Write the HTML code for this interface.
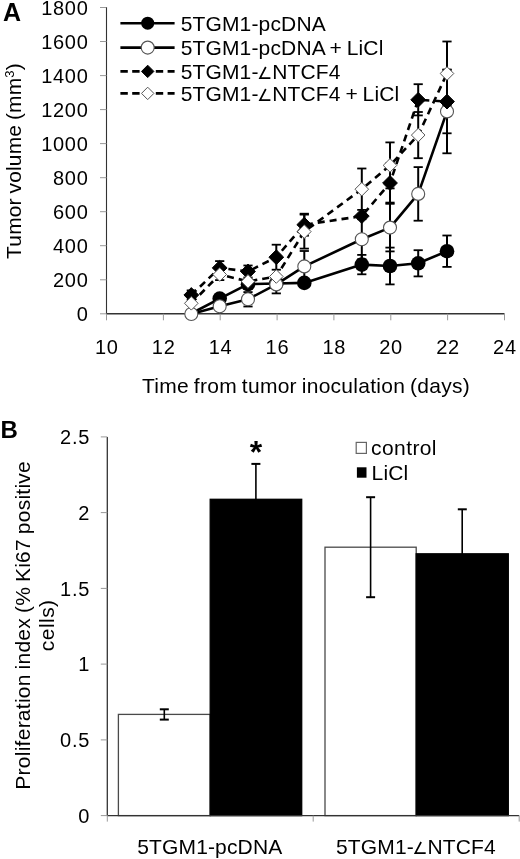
<!DOCTYPE html><html><head><meta charset="utf-8"><style>html,body{margin:0;padding:0;background:#fff;width:520px;height:859px;overflow:hidden}svg{display:block;filter:grayscale(1)}text{font-family:"Liberation Sans",sans-serif;fill:#000;letter-spacing:0.15px;word-spacing:-1.2px}</style></head><body>
<svg width="520" height="859" viewBox="0 0 520 859">
<text x="3.1" y="20.6" font-size="25" font-weight="bold">A</text>
<line x1="106.5" y1="7.0" x2="106.5" y2="313.8" stroke="#333" stroke-width="1.1"/>
<line x1="106.0" y1="313.8" x2="504.5" y2="313.8" stroke="#333" stroke-width="1.5"/>
<line x1="100.0" y1="313.8" x2="106.5" y2="313.8" stroke="#999" stroke-width="1"/>
<text x="88.5" y="320.9" font-size="20" style="letter-spacing:0.7px" text-anchor="end">0</text>
<line x1="100.0" y1="279.8" x2="106.5" y2="279.8" stroke="#999" stroke-width="1"/>
<text x="88.5" y="286.9" font-size="20" style="letter-spacing:0.7px" text-anchor="end">200</text>
<line x1="100.0" y1="245.7" x2="106.5" y2="245.7" stroke="#999" stroke-width="1"/>
<text x="88.5" y="252.8" font-size="20" style="letter-spacing:0.7px" text-anchor="end">400</text>
<line x1="100.0" y1="211.7" x2="106.5" y2="211.7" stroke="#999" stroke-width="1"/>
<text x="88.5" y="218.8" font-size="20" style="letter-spacing:0.7px" text-anchor="end">600</text>
<line x1="100.0" y1="177.7" x2="106.5" y2="177.7" stroke="#999" stroke-width="1"/>
<text x="88.5" y="184.8" font-size="20" style="letter-spacing:0.7px" text-anchor="end">800</text>
<line x1="100.0" y1="143.6" x2="106.5" y2="143.6" stroke="#999" stroke-width="1"/>
<text x="88.5" y="150.7" font-size="20" style="letter-spacing:0.7px" text-anchor="end">1000</text>
<line x1="100.0" y1="109.6" x2="106.5" y2="109.6" stroke="#999" stroke-width="1"/>
<text x="88.5" y="116.7" font-size="20" style="letter-spacing:0.7px" text-anchor="end">1200</text>
<line x1="100.0" y1="75.6" x2="106.5" y2="75.6" stroke="#999" stroke-width="1"/>
<text x="88.5" y="82.7" font-size="20" style="letter-spacing:0.7px" text-anchor="end">1400</text>
<line x1="100.0" y1="41.5" x2="106.5" y2="41.5" stroke="#999" stroke-width="1"/>
<text x="88.5" y="48.6" font-size="20" style="letter-spacing:0.7px" text-anchor="end">1600</text>
<line x1="100.0" y1="7.5" x2="106.5" y2="7.5" stroke="#999" stroke-width="1"/>
<text x="88.5" y="14.6" font-size="20" style="letter-spacing:0.7px" text-anchor="end">1800</text>
<line x1="106.5" y1="313.8" x2="106.5" y2="320.3" stroke="#999" stroke-width="1"/>
<text x="106.8" y="354" font-size="20" style="letter-spacing:0.7px" text-anchor="middle">10</text>
<line x1="163.4" y1="313.8" x2="163.4" y2="320.3" stroke="#999" stroke-width="1"/>
<text x="163.7" y="354" font-size="20" style="letter-spacing:0.7px" text-anchor="middle">12</text>
<line x1="220.2" y1="313.8" x2="220.2" y2="320.3" stroke="#999" stroke-width="1"/>
<text x="220.6" y="354" font-size="20" style="letter-spacing:0.7px" text-anchor="middle">14</text>
<line x1="277.1" y1="313.8" x2="277.1" y2="320.3" stroke="#999" stroke-width="1"/>
<text x="277.4" y="354" font-size="20" style="letter-spacing:0.7px" text-anchor="middle">16</text>
<line x1="333.9" y1="313.8" x2="333.9" y2="320.3" stroke="#999" stroke-width="1"/>
<text x="334.3" y="354" font-size="20" style="letter-spacing:0.7px" text-anchor="middle">18</text>
<line x1="390.8" y1="313.8" x2="390.8" y2="320.3" stroke="#999" stroke-width="1"/>
<text x="391.1" y="354" font-size="20" style="letter-spacing:0.7px" text-anchor="middle">20</text>
<line x1="447.6" y1="313.8" x2="447.6" y2="320.3" stroke="#999" stroke-width="1"/>
<text x="448.0" y="354" font-size="20" style="letter-spacing:0.7px" text-anchor="middle">22</text>
<line x1="504.5" y1="313.8" x2="504.5" y2="320.3" stroke="#999" stroke-width="1"/>
<text x="504.9" y="354" font-size="20" style="letter-spacing:0.7px" text-anchor="middle">24</text>
<text x="306" y="393" font-size="21" text-anchor="middle" style="letter-spacing:0.27px">Time from tumor inoculation (days)</text>
<text transform="translate(20.6,161) rotate(-90)" font-size="21" text-anchor="middle">Tumor volume (mm<tspan font-size="13" dy="-6.5">3</tspan><tspan dy="6.5">)</tspan></text>





<line x1="361.8" y1="254.9" x2="361.8" y2="274.3" stroke="#000" stroke-width="2"/><line x1="357.2" y1="254.9" x2="366.4" y2="254.9" stroke="#000" stroke-width="1.8"/><line x1="357.2" y1="274.3" x2="366.4" y2="274.3" stroke="#000" stroke-width="1.8"/>
<line x1="390.0" y1="247.6" x2="390.0" y2="284.4" stroke="#000" stroke-width="2"/><line x1="385.4" y1="247.6" x2="394.6" y2="247.6" stroke="#000" stroke-width="1.8"/><line x1="385.4" y1="284.4" x2="394.6" y2="284.4" stroke="#000" stroke-width="1.8"/>
<line x1="418.2" y1="250.2" x2="418.2" y2="276.4" stroke="#000" stroke-width="2"/><line x1="413.6" y1="250.2" x2="422.8" y2="250.2" stroke="#000" stroke-width="1.8"/><line x1="413.6" y1="276.4" x2="422.8" y2="276.4" stroke="#000" stroke-width="1.8"/>
<line x1="447.0" y1="235.5" x2="447.0" y2="266.9" stroke="#000" stroke-width="2"/><line x1="442.4" y1="235.5" x2="451.6" y2="235.5" stroke="#000" stroke-width="1.8"/><line x1="442.4" y1="266.9" x2="451.6" y2="266.9" stroke="#000" stroke-width="1.8"/>


<line x1="248.0" y1="292.1" x2="248.0" y2="306.5" stroke="#000" stroke-width="2"/><line x1="243.4" y1="292.1" x2="252.6" y2="292.1" stroke="#000" stroke-width="1.8"/><line x1="243.4" y1="306.5" x2="252.6" y2="306.5" stroke="#000" stroke-width="1.8"/>
<line x1="276.3" y1="275.4" x2="276.3" y2="293.4" stroke="#000" stroke-width="2"/><line x1="271.7" y1="275.4" x2="280.9" y2="275.4" stroke="#000" stroke-width="1.8"/><line x1="271.7" y1="293.4" x2="280.9" y2="293.4" stroke="#000" stroke-width="1.8"/>
<line x1="304.3" y1="251.0" x2="304.3" y2="281.8" stroke="#000" stroke-width="2"/><line x1="299.7" y1="251.0" x2="308.9" y2="251.0" stroke="#000" stroke-width="1.8"/><line x1="299.7" y1="281.8" x2="308.9" y2="281.8" stroke="#000" stroke-width="1.8"/>
<line x1="361.8" y1="219.2" x2="361.8" y2="259.2" stroke="#000" stroke-width="2"/><line x1="357.2" y1="219.2" x2="366.4" y2="219.2" stroke="#000" stroke-width="1.8"/><line x1="357.2" y1="259.2" x2="366.4" y2="259.2" stroke="#000" stroke-width="1.8"/>
<line x1="390.0" y1="203.8" x2="390.0" y2="251.4" stroke="#000" stroke-width="2"/><line x1="385.4" y1="203.8" x2="394.6" y2="203.8" stroke="#000" stroke-width="1.8"/><line x1="385.4" y1="251.4" x2="394.6" y2="251.4" stroke="#000" stroke-width="1.8"/>
<line x1="418.2" y1="167.1" x2="418.2" y2="220.7" stroke="#000" stroke-width="2"/><line x1="413.6" y1="167.1" x2="422.8" y2="167.1" stroke="#000" stroke-width="1.8"/><line x1="413.6" y1="220.7" x2="422.8" y2="220.7" stroke="#000" stroke-width="1.8"/>
<line x1="447.0" y1="69.5" x2="447.0" y2="153.3" stroke="#000" stroke-width="2"/><line x1="442.4" y1="69.5" x2="451.6" y2="69.5" stroke="#000" stroke-width="1.8"/><line x1="442.4" y1="153.3" x2="451.6" y2="153.3" stroke="#000" stroke-width="1.8"/>
<line x1="191.3" y1="290.4" x2="191.3" y2="299.6" stroke="#000" stroke-width="2"/><line x1="186.7" y1="290.4" x2="195.9" y2="290.4" stroke="#000" stroke-width="1.8"/><line x1="186.7" y1="299.6" x2="195.9" y2="299.6" stroke="#000" stroke-width="1.8"/>
<line x1="219.7" y1="261.1" x2="219.7" y2="274.7" stroke="#000" stroke-width="2"/><line x1="215.1" y1="261.1" x2="224.3" y2="261.1" stroke="#000" stroke-width="1.8"/><line x1="215.1" y1="274.7" x2="224.3" y2="274.7" stroke="#000" stroke-width="1.8"/>
<line x1="248.0" y1="265.5" x2="248.0" y2="277.5" stroke="#000" stroke-width="2"/><line x1="243.4" y1="265.5" x2="252.6" y2="265.5" stroke="#000" stroke-width="1.8"/><line x1="243.4" y1="277.5" x2="252.6" y2="277.5" stroke="#000" stroke-width="1.8"/>
<line x1="276.3" y1="244.7" x2="276.3" y2="269.7" stroke="#000" stroke-width="2"/><line x1="271.7" y1="244.7" x2="280.9" y2="244.7" stroke="#000" stroke-width="1.8"/><line x1="271.7" y1="269.7" x2="280.9" y2="269.7" stroke="#000" stroke-width="1.8"/>
<line x1="304.3" y1="213.7" x2="304.3" y2="235.7" stroke="#000" stroke-width="2"/><line x1="299.7" y1="213.7" x2="308.9" y2="213.7" stroke="#000" stroke-width="1.8"/><line x1="299.7" y1="235.7" x2="308.9" y2="235.7" stroke="#000" stroke-width="1.8"/>

<line x1="390.0" y1="163.4" x2="390.0" y2="202.6" stroke="#000" stroke-width="2"/><line x1="385.4" y1="163.4" x2="394.6" y2="163.4" stroke="#000" stroke-width="1.8"/><line x1="385.4" y1="202.6" x2="394.6" y2="202.6" stroke="#000" stroke-width="1.8"/>
<line x1="418.2" y1="84.2" x2="418.2" y2="115.4" stroke="#000" stroke-width="2"/><line x1="413.6" y1="84.2" x2="422.8" y2="84.2" stroke="#000" stroke-width="1.8"/><line x1="413.6" y1="115.4" x2="422.8" y2="115.4" stroke="#000" stroke-width="1.8"/>
<line x1="447.0" y1="69.9" x2="447.0" y2="133.3" stroke="#000" stroke-width="2"/><line x1="442.4" y1="69.9" x2="451.6" y2="69.9" stroke="#000" stroke-width="1.8"/><line x1="442.4" y1="133.3" x2="451.6" y2="133.3" stroke="#000" stroke-width="1.8"/>

<line x1="219.7" y1="268.9" x2="219.7" y2="280.1" stroke="#000" stroke-width="2"/><line x1="215.1" y1="268.9" x2="224.3" y2="268.9" stroke="#000" stroke-width="1.8"/><line x1="215.1" y1="280.1" x2="224.3" y2="280.1" stroke="#000" stroke-width="1.8"/>


<line x1="304.3" y1="214.6" x2="304.3" y2="248.6" stroke="#000" stroke-width="2"/><line x1="299.7" y1="214.6" x2="308.9" y2="214.6" stroke="#000" stroke-width="1.8"/><line x1="299.7" y1="248.6" x2="308.9" y2="248.6" stroke="#000" stroke-width="1.8"/>
<line x1="361.8" y1="168.5" x2="361.8" y2="209.9" stroke="#000" stroke-width="2"/><line x1="357.2" y1="168.5" x2="366.4" y2="168.5" stroke="#000" stroke-width="1.8"/><line x1="357.2" y1="209.9" x2="366.4" y2="209.9" stroke="#000" stroke-width="1.8"/>
<line x1="390.0" y1="142.4" x2="390.0" y2="188.4" stroke="#000" stroke-width="2"/><line x1="385.4" y1="142.4" x2="394.6" y2="142.4" stroke="#000" stroke-width="1.8"/><line x1="385.4" y1="188.4" x2="394.6" y2="188.4" stroke="#000" stroke-width="1.8"/>
<line x1="418.2" y1="112.0" x2="418.2" y2="158.2" stroke="#000" stroke-width="2"/><line x1="413.6" y1="112.0" x2="422.8" y2="112.0" stroke="#000" stroke-width="1.8"/><line x1="413.6" y1="158.2" x2="422.8" y2="158.2" stroke="#000" stroke-width="1.8"/>
<line x1="447.0" y1="41.5" x2="447.0" y2="105.5" stroke="#000" stroke-width="2"/><line x1="442.4" y1="41.5" x2="451.6" y2="41.5" stroke="#000" stroke-width="1.8"/><line x1="442.4" y1="105.5" x2="451.6" y2="105.5" stroke="#000" stroke-width="1.8"/>
<polyline points="191.3,313.5 219.7,298.6 248.0,284.2 276.3,283.5 304.3,282.9 361.8,264.6 390.0,266.0 418.2,263.3 447.0,251.2" fill="none" stroke="#000" stroke-width="2.6" stroke-linejoin="round"/>
<circle cx="219.7" cy="298.6" r="7.3" fill="#000"/>
<circle cx="248.0" cy="284.2" r="7.3" fill="#000"/>
<circle cx="276.3" cy="283.5" r="7.3" fill="#000"/>
<circle cx="304.3" cy="282.9" r="7.3" fill="#000"/>
<circle cx="361.8" cy="264.6" r="7.3" fill="#000"/>
<circle cx="390.0" cy="266.0" r="7.3" fill="#000"/>
<circle cx="418.2" cy="263.3" r="7.3" fill="#000"/>
<circle cx="447.0" cy="251.2" r="7.3" fill="#000"/>
<polyline points="191.3,314.0 219.7,306.3 248.0,299.3 276.3,284.4 304.3,266.4 361.8,239.2 390.0,227.6 418.2,193.9 447.0,111.4" fill="none" stroke="#000" stroke-width="2.6" stroke-linejoin="round"/>
<circle cx="191.3" cy="314.0" r="6.5" fill="#fff" stroke="#555" stroke-width="1.1"/>
<circle cx="219.7" cy="306.3" r="6.5" fill="#fff" stroke="#555" stroke-width="1.1"/>
<circle cx="248.0" cy="299.3" r="6.5" fill="#fff" stroke="#555" stroke-width="1.1"/>
<circle cx="276.3" cy="284.4" r="6.5" fill="#fff" stroke="#555" stroke-width="1.1"/>
<circle cx="304.3" cy="266.4" r="6.5" fill="#fff" stroke="#555" stroke-width="1.1"/>
<circle cx="361.8" cy="239.2" r="6.5" fill="#fff" stroke="#555" stroke-width="1.1"/>
<circle cx="390.0" cy="227.6" r="6.5" fill="#fff" stroke="#555" stroke-width="1.1"/>
<circle cx="418.2" cy="193.9" r="6.5" fill="#fff" stroke="#555" stroke-width="1.1"/>
<circle cx="447.0" cy="111.4" r="6.5" fill="#fff" stroke="#555" stroke-width="1.1"/>
<polyline points="191.3,295.0 219.7,267.9 248.0,271.5 276.3,257.2 304.3,224.7 361.8,216.1 390.0,183.0 418.2,99.8 447.0,101.6" fill="none" stroke="#000" stroke-width="2.6" stroke-dasharray="7,5" stroke-linejoin="round"/>
<path d="M191.3,287.6 L198.7,295.0 L191.3,302.4 L183.9,295.0Z" fill="#000" stroke="#000" stroke-width="1"/>
<path d="M219.7,260.5 L227.1,267.9 L219.7,275.3 L212.3,267.9Z" fill="#000" stroke="#000" stroke-width="1"/>
<path d="M248.0,264.1 L255.4,271.5 L248.0,278.9 L240.6,271.5Z" fill="#000" stroke="#000" stroke-width="1"/>
<path d="M276.3,249.8 L283.7,257.2 L276.3,264.6 L268.9,257.2Z" fill="#000" stroke="#000" stroke-width="1"/>
<path d="M304.3,217.3 L311.7,224.7 L304.3,232.1 L296.9,224.7Z" fill="#000" stroke="#000" stroke-width="1"/>
<path d="M361.8,208.7 L369.2,216.1 L361.8,223.5 L354.4,216.1Z" fill="#000" stroke="#000" stroke-width="1"/>
<path d="M390.0,175.6 L397.4,183.0 L390.0,190.4 L382.6,183.0Z" fill="#000" stroke="#000" stroke-width="1"/>
<path d="M418.2,92.4 L425.6,99.8 L418.2,107.2 L410.8,99.8Z" fill="#000" stroke="#000" stroke-width="1"/>
<path d="M447.0,94.2 L454.4,101.6 L447.0,109.0 L439.6,101.6Z" fill="#000" stroke="#000" stroke-width="1"/>
<polyline points="191.3,303.3 219.7,274.5 248.0,281.4 276.3,276.5 304.3,231.6 361.8,189.2 390.0,165.4 418.2,135.1 447.0,73.5" fill="none" stroke="#000" stroke-width="2.6" stroke-dasharray="7,5" stroke-linejoin="round"/>
<path d="M191.3,296.5 L198.1,303.3 L191.3,310.1 L184.5,303.3Z" fill="#fff" stroke="#555" stroke-width="1"/>
<path d="M219.7,267.7 L226.5,274.5 L219.7,281.3 L212.9,274.5Z" fill="#fff" stroke="#555" stroke-width="1"/>
<path d="M248.0,274.6 L254.8,281.4 L248.0,288.2 L241.2,281.4Z" fill="#fff" stroke="#555" stroke-width="1"/>
<path d="M276.3,269.7 L283.1,276.5 L276.3,283.3 L269.5,276.5Z" fill="#fff" stroke="#555" stroke-width="1"/>
<path d="M304.3,224.8 L311.1,231.6 L304.3,238.4 L297.5,231.6Z" fill="#fff" stroke="#555" stroke-width="1"/>
<path d="M361.8,182.4 L368.6,189.2 L361.8,196.0 L355.0,189.2Z" fill="#fff" stroke="#555" stroke-width="1"/>
<path d="M390.0,158.6 L396.8,165.4 L390.0,172.2 L383.2,165.4Z" fill="#fff" stroke="#555" stroke-width="1"/>
<path d="M418.2,128.3 L425.0,135.1 L418.2,141.9 L411.4,135.1Z" fill="#fff" stroke="#555" stroke-width="1"/>
<path d="M447.0,66.7 L453.8,73.5 L447.0,80.3 L440.2,73.5Z" fill="#fff" stroke="#555" stroke-width="1"/>
<line x1="120.4" y1="23.2" x2="174.6" y2="23.2" stroke="#000" stroke-width="2.6"/>
<circle cx="147.7" cy="23.2" r="6.5" fill="#000"/>
<text x="180.7" y="30.8" font-size="21">5TGM1-pcDNA</text>
<line x1="120.4" y1="47.6" x2="174.6" y2="47.6" stroke="#000" stroke-width="2.6"/>
<circle cx="147.7" cy="47.6" r="6.5" fill="#fff" stroke="#555" stroke-width="1.1"/>
<text x="180.7" y="55.2" font-size="21">5TGM1-pcDNA + LiCl</text>
<line x1="120.4" y1="71.4" x2="174.6" y2="71.4" stroke="#000" stroke-width="2.6" stroke-dasharray="7.4,4.4"/>
<path d="M147.7,65.2 L153.9,71.4 L147.7,77.6 L141.5,71.4Z" fill="#000" stroke="#000" stroke-width="1"/>
<text x="180.7" y="79.0" font-size="21">5TGM1-</text><path d="M265.8,67.0 L260.0,78.2 L270.4,78.2" fill="none" stroke="#000" stroke-width="1.7" stroke-linejoin="miter"/><text x="272.2" y="79.0" font-size="21">NTCF4</text>
<line x1="120.4" y1="93.4" x2="174.6" y2="93.4" stroke="#000" stroke-width="2.6" stroke-dasharray="7.4,4.4"/>
<path d="M147.7,87.2 L153.9,93.4 L147.7,99.6 L141.5,93.4Z" fill="#fff" stroke="#555" stroke-width="1"/>
<text x="180.7" y="101.0" font-size="21">5TGM1-</text><path d="M265.8,89.0 L260.0,100.2 L270.4,100.2" fill="none" stroke="#000" stroke-width="1.7" stroke-linejoin="miter"/><text x="272.2" y="101.0" font-size="21">NTCF4 + LiCl</text>
<text x="0.6" y="437.7" font-size="24" font-weight="bold">B</text>
<rect x="118.4" y="714.4" width="91.8" height="101.2" fill="#fff" stroke="#4a4a4a" stroke-width="1.3"/>
<rect x="210.2" y="499.3" width="91.5" height="316.3" fill="#000" stroke="#000" stroke-width="1.3"/>
<rect x="325.0" y="547.2" width="91.2" height="268.4" fill="#fff" stroke="#4a4a4a" stroke-width="1.3"/>
<rect x="416.2" y="553.8" width="92.1" height="261.8" fill="#000" stroke="#000" stroke-width="1.3"/>
<line x1="164.3" y1="709.3" x2="164.3" y2="719.6" stroke="#000" stroke-width="1.6"/>
<line x1="159.8" y1="709.3" x2="168.8" y2="709.3" stroke="#000" stroke-width="2"/>
<line x1="159.8" y1="719.6" x2="168.8" y2="719.6" stroke="#000" stroke-width="2"/>
<line x1="255.9" y1="463.9" x2="255.9" y2="534.8" stroke="#000" stroke-width="1.6"/>
<line x1="251.4" y1="463.9" x2="260.4" y2="463.9" stroke="#000" stroke-width="2"/>
<line x1="251.4" y1="534.8" x2="260.4" y2="534.8" stroke="#000" stroke-width="2"/>
<line x1="370.6" y1="497.2" x2="370.6" y2="597.2" stroke="#000" stroke-width="1.6"/>
<line x1="366.1" y1="497.2" x2="375.1" y2="497.2" stroke="#000" stroke-width="2"/>
<line x1="366.1" y1="597.2" x2="375.1" y2="597.2" stroke="#000" stroke-width="2"/>
<line x1="462.2" y1="509.3" x2="462.2" y2="598.4" stroke="#000" stroke-width="1.6"/>
<line x1="457.8" y1="509.3" x2="466.8" y2="509.3" stroke="#000" stroke-width="2"/>
<line x1="457.8" y1="598.4" x2="466.8" y2="598.4" stroke="#000" stroke-width="2"/>
<line x1="107.3" y1="436.9" x2="107.3" y2="815.6" stroke="#333" stroke-width="1.3"/>
<line x1="107.3" y1="815.6" x2="519.2" y2="815.6" stroke="#333" stroke-width="1.3"/>
<line x1="100.8" y1="815.6" x2="107.3" y2="815.6" stroke="#999" stroke-width="1"/>
<text x="90.0" y="822.7" font-size="20" style="letter-spacing:0.7px" text-anchor="end">0</text>
<line x1="100.8" y1="739.9" x2="107.3" y2="739.9" stroke="#999" stroke-width="1"/>
<text x="90.0" y="747.0" font-size="20" style="letter-spacing:0.7px" text-anchor="end">0.5</text>
<line x1="100.8" y1="664.1" x2="107.3" y2="664.1" stroke="#999" stroke-width="1"/>
<text x="90.0" y="671.2" font-size="20" style="letter-spacing:0.7px" text-anchor="end">1</text>
<line x1="100.8" y1="588.4" x2="107.3" y2="588.4" stroke="#999" stroke-width="1"/>
<text x="90.0" y="595.5" font-size="20" style="letter-spacing:0.7px" text-anchor="end">1.5</text>
<line x1="100.8" y1="512.6" x2="107.3" y2="512.6" stroke="#999" stroke-width="1"/>
<text x="90.0" y="519.7" font-size="20" style="letter-spacing:0.7px" text-anchor="end">2</text>
<line x1="100.8" y1="436.9" x2="107.3" y2="436.9" stroke="#999" stroke-width="1"/>
<text x="90.0" y="444.0" font-size="20" style="letter-spacing:0.7px" text-anchor="end">2.5</text>
<line x1="107.3" y1="815.6" x2="107.3" y2="821.6" stroke="#999" stroke-width="1"/>
<line x1="313.2" y1="815.6" x2="313.2" y2="821.6" stroke="#999" stroke-width="1"/>
<line x1="519.2" y1="815.6" x2="519.2" y2="821.6" stroke="#999" stroke-width="1"/>
<text x="209.8" y="854" font-size="21" text-anchor="middle">5TGM1-pcDNA</text>
<text x="336.0" y="854.0" font-size="21">5TGM1-</text><path d="M421.1,842.0 L415.3,853.2 L425.7,853.2" fill="none" stroke="#000" stroke-width="1.7" stroke-linejoin="miter"/><text x="427.5" y="854.0" font-size="21">NTCF4</text>
<text transform="translate(29.8,625.3) rotate(-90)" font-size="21" text-anchor="middle" style="letter-spacing:0.25px">Proliferation index (% Ki67 positive</text>
<text transform="translate(53.8,625.3) rotate(-90)" font-size="21" text-anchor="middle" style="letter-spacing:0.45px">cells)</text>
<text x="256.1" y="462.6" font-size="32" font-weight="bold" text-anchor="middle" style="letter-spacing:0">*</text>
<rect x="356.2" y="442.4" width="10.2" height="11" fill="#fff" stroke="#666" stroke-width="1.2"/>
<rect x="356.9" y="467.3" width="9.6" height="10.4" fill="#000"/>
<text x="371.1" y="455.4" font-size="21" style="letter-spacing:0.4px">control</text>
<text x="371.6" y="479.6" font-size="21">LiCl</text>
</svg></body></html>
